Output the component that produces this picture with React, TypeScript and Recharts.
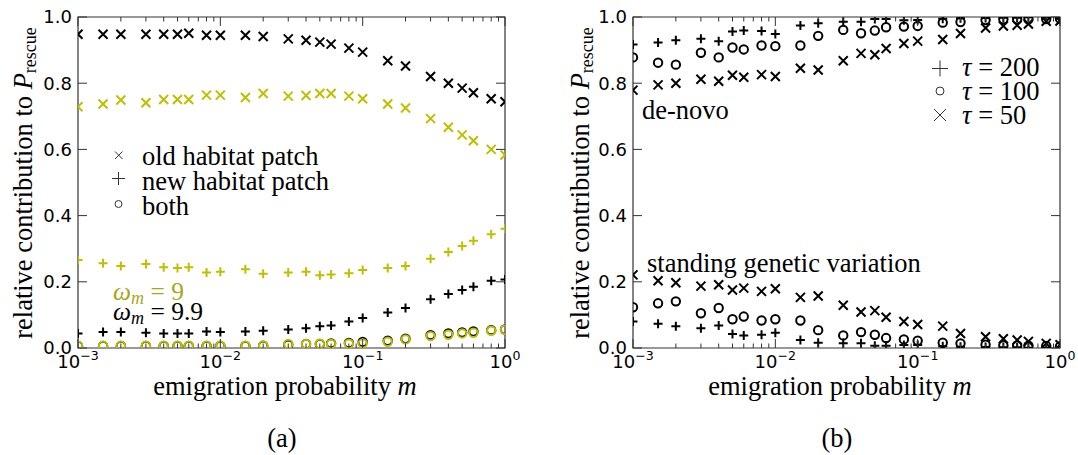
import React from 'react';
import { ScatterChart, Scatter, XAxis, YAxis, ReferenceArea } from 'recharts';

// emigration probability m (shared x values of both panels)
const mValues = [0.001, 0.0015, 0.002, 0.003, 0.004, 0.005, 0.006, 0.008, 0.01, 0.015, 0.02, 0.03, 0.04, 0.05, 0.06, 0.08, 0.1, 0.15, 0.2, 0.3, 0.4, 0.5, 0.6, 0.8, 1.0];

// panel (a): omega_m = 9.9 (black)
const oldW99 = [0.948, 0.948, 0.948, 0.948, 0.948, 0.948, 0.951, 0.945, 0.945, 0.945, 0.941, 0.934, 0.930, 0.924, 0.918, 0.906, 0.894, 0.868, 0.852, 0.820, 0.800, 0.785, 0.771, 0.753, 0.744];
const newW99 = [0.044, 0.048, 0.048, 0.046, 0.044, 0.044, 0.044, 0.050, 0.048, 0.050, 0.052, 0.056, 0.060, 0.066, 0.068, 0.080, 0.091, 0.107, 0.121, 0.147, 0.163, 0.175, 0.185, 0.203, 0.207];
const bothW99 = [0.006, 0.006, 0.006, 0.006, 0.006, 0.006, 0.006, 0.006, 0.006, 0.006, 0.007, 0.010, 0.012, 0.012, 0.014, 0.015, 0.018, 0.022, 0.028, 0.039, 0.044, 0.047, 0.050, 0.054, 0.056];
// panel (a): omega_m = 9 (yellow)
const oldW9 = [0.729, 0.737, 0.749, 0.741, 0.751, 0.751, 0.751, 0.764, 0.764, 0.757, 0.769, 0.761, 0.763, 0.769, 0.769, 0.761, 0.753, 0.737, 0.725, 0.693, 0.667, 0.644, 0.626, 0.600, 0.583];
const newW9 = [0.266, 0.256, 0.248, 0.254, 0.244, 0.242, 0.244, 0.228, 0.230, 0.238, 0.224, 0.228, 0.230, 0.220, 0.222, 0.226, 0.236, 0.242, 0.248, 0.270, 0.290, 0.308, 0.324, 0.344, 0.360];
const bothW9 = [0.007, 0.007, 0.007, 0.007, 0.007, 0.007, 0.007, 0.007, 0.007, 0.007, 0.008, 0.012, 0.012, 0.013, 0.012, 0.013, 0.014, 0.019, 0.026, 0.036, 0.040, 0.044, 0.046, 0.052, 0.055];

// panel (b): de-novo
const denovo200 = [0.917, 0.923, 0.930, 0.934, 0.927, 0.956, 0.959, 0.958, 0.949, 0.974, 0.981, 0.986, 0.986, 0.994, 0.994, 0.990, 0.991, 0.995, 0.996, 0.997, 0.998, 0.998, 0.999, 0.999, 0.999];
const denovo100 = [0.878, 0.862, 0.856, 0.892, 0.878, 0.908, 0.902, 0.914, 0.912, 0.914, 0.943, 0.961, 0.951, 0.959, 0.969, 0.971, 0.973, 0.983, 0.985, 0.991, 0.993, 0.993, 0.993, 0.994, 0.995];
const denovo50 = [0.779, 0.795, 0.800, 0.812, 0.806, 0.824, 0.818, 0.826, 0.820, 0.845, 0.840, 0.868, 0.890, 0.886, 0.905, 0.920, 0.927, 0.932, 0.950, 0.967, 0.973, 0.975, 0.979, 0.987, 0.988];
// panel (b): standing genetic variation
const sgv200 = [0.080, 0.073, 0.066, 0.060, 0.068, 0.042, 0.038, 0.040, 0.046, 0.024, 0.016, 0.014, 0.014, 0.007, 0.007, 0.009, 0.009, 0.005, 0.004, 0.003, 0.002, 0.002, 0.001, 0.001, 0.001];
const sgv100 = [0.123, 0.135, 0.141, 0.105, 0.121, 0.087, 0.095, 0.083, 0.087, 0.083, 0.054, 0.038, 0.048, 0.040, 0.030, 0.026, 0.022, 0.016, 0.014, 0.010, 0.008, 0.008, 0.007, 0.006, 0.005];
const sgv50 = [0.221, 0.203, 0.197, 0.187, 0.191, 0.175, 0.181, 0.171, 0.179, 0.153, 0.157, 0.129, 0.109, 0.113, 0.093, 0.080, 0.071, 0.066, 0.044, 0.034, 0.028, 0.024, 0.020, 0.014, 0.010];

// axis ticks
const xTicks = [0.001, 0.002, 0.003, 0.004, 0.005, 0.006, 0.007, 0.008, 0.009, 0.01, 0.02, 0.03, 0.04, 0.05, 0.06, 0.07, 0.08, 0.09, 0.1, 0.2, 0.3, 0.4, 0.5, 0.6, 0.7, 0.8, 0.9, 1];
const yTicks = [0, 0.2, 0.4, 0.6, 0.8, 1.0];

const PLOT_W = 427;
const PLOT_H = 331;
const X_MARGIN = 20;
const Y_MARGIN = 6;
const AXIS = '#333';
const YELLOW = '#bfbf00';
const YELLOW_TEXT = '#aaa520';
const SERIF = '"Liberation Serif", "Times New Roman", serif';
const SANS = '"DejaVu Sans", sans-serif';
const FS = 26.5;

const rows = (vals: number[]) => mValues.map((m, i) => ({ m, v: vals[i] }));

const crossShape = (color: string, h = 4.5) => (p: any) => {
  const { cx, cy } = p;
  if (cx == null || cy == null) return <g />;
  return (
    <path d={`M${cx - h},${cy - h}L${cx + h},${cy + h}M${cx - h},${cy + h}L${cx + h},${cy - h}`} stroke={color} strokeWidth={2} fill="none" />
  );
};
const plusShape = (color: string, h = 4.5) => (p: any) => {
  const { cx, cy } = p;
  if (cx == null || cy == null) return <g />;
  return <path d={`M${cx - h},${cy}L${cx + h},${cy}M${cx},${cy - h}L${cx},${cy + h}`} stroke={color} strokeWidth={2} fill="none" />;
};
const circleShape = (color: string, r = 4.2) => (p: any) => {
  const { cx, cy } = p;
  if (cx == null || cy == null) return <g />;
  return <circle cx={cx} cy={cy} r={r} stroke={color} strokeWidth={2} fill="none" />;
};

const XTick = (props: any) => {
  const { x, y, payload } = props;
  const v = payload.value;
  const lg = Math.log10(v);
  const exp = Math.round(lg);
  const major = Math.abs(lg - exp) < 1e-6;
  const axisY = y - X_MARGIN;
  const len = major ? 9 : 4.5;
  return (
    <g>
      <line x1={x} x2={x} y1={axisY} y2={axisY - len} stroke={AXIS} strokeWidth={1} />
      <line x1={x} x2={x} y1={axisY - PLOT_H} y2={axisY - PLOT_H + len} stroke={AXIS} strokeWidth={1} />
      {major && (
        <text x={x} y={y} textAnchor="middle" fontFamily={SANS} fontSize={18} fill="#000">
          10
          <tspan dy={-8} fontSize={12.6}>{exp === 0 ? '0' : '\u2212' + Math.abs(exp)}</tspan>
        </text>
      )}
    </g>
  );
};

const YTick = (props: any) => {
  const { x, y, payload } = props;
  const axisX = x + Y_MARGIN;
  return (
    <g>
      <line x1={axisX} x2={axisX + 9} y1={y} y2={y} stroke={AXIS} strokeWidth={1} />
      <line x1={axisX + PLOT_W} x2={axisX + PLOT_W - 9} y1={y} y2={y} stroke={AXIS} strokeWidth={1} />
      <text x={x} y={y} dy="0.36em" textAnchor="end" fontFamily={SANS} fontSize={18} fill="#000">
        {Number(payload.value).toFixed(1)}
      </text>
    </g>
  );
};

const Axes = () => [
  <XAxis key="x" type="number" dataKey="m" scale="log" domain={[0.001, 1]} allowDataOverflow ticks={xTicks} interval={0}
    tick={<XTick />} tickLine={false} axisLine={false} tickSize={0} tickMargin={X_MARGIN} height={1} />,
  <YAxis key="y" type="number" dataKey="v" domain={[0, 1]} allowDataOverflow ticks={yTicks} interval={0}
    tick={<YTick />} tickLine={false} axisLine={false} tickSize={0} tickMargin={Y_MARGIN} width={1} />,
];

const YLabel = ({ x, y }: { x: number; y: number }) => (
  <text transform={`rotate(-90, ${x}, ${y})`} x={x} y={y} textAnchor="middle" fontFamily={SERIF} fontSize={FS} fill="#000">
    relative contribution to <tspan fontStyle="italic">P</tspan>
    <tspan fontSize={18} dy={4}>rescue</tspan>
  </text>
);

const XLabel = ({ x, y }: { x: number; y: number }) => (
  <text x={x} y={y} textAnchor="middle" fontFamily={SERIF} fontSize={FS} fill="#000">
    emigration probability <tspan fontStyle="italic">m</tspan>
  </text>
);

export default function App() {
  return (
    <div style={{ position: 'absolute', left: 0, top: 0, width: 1078, height: 455, background: '#fff' }}>
      <div style={{ position: 'absolute', left: 0, top: 0 }}>
        <ScatterChart width={560} height={455} margin={{ top: 17, right: 55, bottom: 106, left: 77 }}>
          {Axes()}
          <Scatter data={rows(oldW99)} shape={crossShape('#000')} isAnimationActive={false} />
          <Scatter data={rows(newW99)} shape={plusShape('#000')} isAnimationActive={false} />
          <Scatter data={rows(bothW99)} shape={circleShape('#000')} isAnimationActive={false} />
          <Scatter data={rows(oldW9)} shape={crossShape(YELLOW)} isAnimationActive={false} />
          <Scatter data={rows(newW9)} shape={plusShape(YELLOW)} isAnimationActive={false} />
          <Scatter data={rows(bothW9)} shape={circleShape(YELLOW)} isAnimationActive={false} />
          <ReferenceArea x1={0.001} x2={1} y1={0} y2={1} fill="none" stroke={AXIS} strokeWidth={1.2} ifOverflow="visible" />
        </ScatterChart>
      </div>
      <div style={{ position: 'absolute', left: 560, top: 0 }}>
        <ScatterChart width={518} height={455} margin={{ top: 17, right: 18, bottom: 106, left: 72 }}>
          {Axes()}
          <Scatter data={rows(denovo200)} shape={plusShape('#000')} isAnimationActive={false} />
          <Scatter data={rows(denovo100)} shape={circleShape('#000')} isAnimationActive={false} />
          <Scatter data={rows(denovo50)} shape={crossShape('#000')} isAnimationActive={false} />
          <Scatter data={rows(sgv200)} shape={plusShape('#000')} isAnimationActive={false} />
          <Scatter data={rows(sgv100)} shape={circleShape('#000')} isAnimationActive={false} />
          <Scatter data={rows(sgv50)} shape={crossShape('#000')} isAnimationActive={false} />
          <ReferenceArea x1={0.001} x2={1} y1={0} y2={1} fill="none" stroke={AXIS} strokeWidth={1.2} ifOverflow="visible" />
        </ScatterChart>
      </div>
      <svg width={1078} height={455} style={{ position: 'absolute', left: 0, top: 0, pointerEvents: 'none' }}>
        {/* panel (a) texts */}
        <YLabel x={32} y={183} />
        <XLabel x={285} y={395} />
        <text x={282} y={447} textAnchor="middle" fontFamily={SERIF} fontSize={FS}>(a)</text>
        {/* legend (a) */}
        <path d="M115,151.5L122.5,159M115,159L122.5,151.5" stroke="#333" strokeWidth={1} fill="none" />
        <text x={142} y={165} fontFamily={SERIF} fontSize={FS}>old habitat patch</text>
        <path d="M112,178.5L125,178.5M118.5,172L118.5,185" stroke="#333" strokeWidth={1} fill="none" />
        <text x={142} y={190} fontFamily={SERIF} fontSize={FS}>new habitat patch</text>
        <circle cx={118.5} cy={204} r={3.5} stroke="#333" strokeWidth={1} fill="none" />
        <text x={142} y={215} fontFamily={SERIF} fontSize={FS}>both</text>
        <text x={113} y={300} fontFamily={SERIF} fontSize={25.5} fill={YELLOW_TEXT}>
          <tspan fontStyle="italic">ω</tspan><tspan fontStyle="italic" fontSize={18} dy={4}>m</tspan><tspan dy={-4}> = 9</tspan>
        </text>
        <text x={113} y={320} fontFamily={SERIF} fontSize={25.5} fill="#000">
          <tspan fontStyle="italic">ω</tspan><tspan fontStyle="italic" fontSize={18} dy={4}>m</tspan><tspan dy={-4}> = 9.9</tspan>
        </text>
        {/* panel (b) texts */}
        <YLabel x={589} y={183} />
        <XLabel x={840} y={395} />
        <text x={837} y={447} textAnchor="middle" fontFamily={SERIF} fontSize={FS}>(b)</text>
        <text x={642} y={119} fontFamily={SERIF} fontSize={FS}>de-novo</text>
        <text x={647} y={272} fontFamily={SERIF} fontSize={FS}>standing genetic variation</text>
        {/* legend (b) */}
        <path d="M932,68.5L948,68.5M940,60.5L940,76.5" stroke="#333" strokeWidth={1} fill="none" />
        <text x={962} y={76} fontFamily={SERIF} fontSize={FS}><tspan fontStyle="italic">τ</tspan> = 200</text>
        <circle cx={940} cy={91} r={4} stroke="#333" strokeWidth={1} fill="none" />
        <text x={962} y={100} fontFamily={SERIF} fontSize={FS}><tspan fontStyle="italic">τ</tspan> = 100</text>
        <path d="M934,109L946,121M934,121L946,109" stroke="#333" strokeWidth={1} fill="none" />
        <text x={962} y={124} fontFamily={SERIF} fontSize={FS}><tspan fontStyle="italic">τ</tspan> = 50</text>
      </svg>
    </div>
  );
}
